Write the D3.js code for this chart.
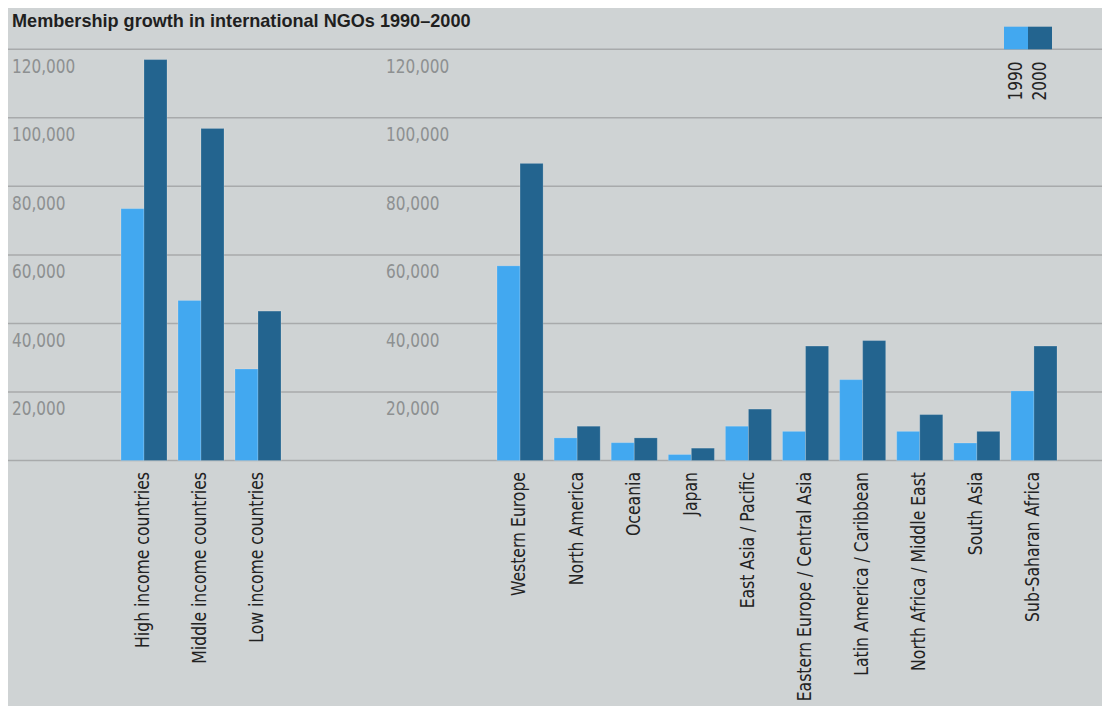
<!DOCTYPE html>
<html>
<head>
<meta charset="utf-8">
<script src="https://cdn.jsdelivr.net/npm/d3@7"></script>
<style>
  body { margin: 0; background: #fff; }
  svg { display: block; }
</style>
</head>
<body>
<svg id="chart" width="1102" height="706"></svg>
<script>
// data
const years = ['1990', '2000']
const incomeGroups = ['High income countries', 'Middle income countries', 'Low income countries']
const income1990 = [73500, 46700, 26700]
const income2000 = [117000, 96900, 43600]

const regions = ['Western Europe', 'North America', 'Oceania', 'Japan', 'East Asia / Pacific',
  'Eastern Europe / Central Asia', 'Latin America / Caribbean', 'North Africa / Middle East',
  'South Asia', 'Sub-Saharan Africa']
const region1990 = [56800, 6600, 5200, 1750, 10000, 8500, 23600, 8500, 5100, 20300]
const region2000 = [86700, 10000, 6600, 3600, 15000, 33400, 35000, 13400, 8500, 33400]

const yTicks = [0, 20000, 40000, 60000, 80000, 100000, 120000]

const colors = { '1990': '#42a8f0', '2000': '#23648f' }
const labelFont = '"DejaVu Sans Condensed", "Liberation Sans", sans-serif'

let svg = d3.select('#chart')

svg.append('rect')
  .attr('x', 8).attr('y', 8)
  .attr('width', 1094).attr('height', 698)
  .attr('fill', '#cfd3d4')

let y = d3.scaleLinear().domain([0, 120000]).range([460.5, 49.3])

// grid lines
svg.append('g').selectAll('line')
  .data(yTicks)
  .join('line')
  .attr('x1', 8).attr('x2', 1102)
  .attr('y1', d => y(d)).attr('y2', d => y(d))
  .attr('stroke', '#a8aaab')
  .attr('stroke-width', 1.5)

// tick labels, two columns
let fmt = d3.format(',')
;[12, 386].forEach(x0 => {
  svg.append('g').selectAll('text')
    .data(yTicks.filter(d => d > 0))
    .join('text')
    .attr('transform', d => 'translate(' + x0 + ',' + (y(d) + 23.4) + ') scale(0.85,1)')
    .attr('fill', '#8d9091')
    .style('font-family', labelFont)
    .style('font-size', '20px')
    .text(d => fmt(d))
})

svg.append('text')
  .attr('x', 12).attr('y', 27)
  .attr('fill', '#1f1f1f')
  .style('font-family', '"Liberation Sans", Arial, sans-serif')
  .style('font-weight', 'bold')
  .style('font-size', '18.1px')
  .text('Membership growth in international NGOs 1990\u20132000')

function drawGroup(cats, v1990, v2000, x0, x1) {
  let x = d3.scaleBand().domain(cats).range([x0, x1])
    .paddingInner(11 / 57).paddingOuter(0.5 * 11 / 57)
  let xi = d3.scaleBand().domain(years).range([0, x.bandwidth()])

  let rows = cats.map((c, i) => ({ cat: c, vals: [
    { year: '1990', v: v1990[i] }, { year: '2000', v: v2000[i] }] }))

  let g = svg.append('g')
  let grp = g.selectAll('g.cat')
    .data(rows)
    .join('g')
    .attr('class', 'cat')
    .attr('transform', d => 'translate(' + x(d.cat) + ',0)')

  grp.selectAll('rect')
    .data(d => d.vals)
    .join('rect')
    .attr('x', d => xi(d.year))
    .attr('width', xi.bandwidth())
    .attr('y', d => y(d.v))
    .attr('height', d => y(0) - y(d.v))
    .attr('fill', d => colors[d.year])
    .attr('stroke', 'rgba(255,255,255,0.18)')
    .attr('stroke-width', 1)

  grp.append('text')
    .attr('transform', 'translate(' + x.bandwidth() / 2 + ',472) rotate(-90) scale(0.87,1)')
    .attr('text-anchor', 'end')
    .attr('dy', '0.27em')
    .attr('fill', '#222')
    .style('font-family', labelFont)
    .style('font-size', '20px')
    .text(d => d.cat)
}

drawGroup(incomeGroups, income1990, income2000, 115.5, 115.5 + 57 * 3)
drawGroup(regions, region1990, region2000, 491.5, 491.5 + 57.1 * 10)

// legend
let lx = d3.scaleBand().domain(years).range([1004, 1052])
let leg = svg.append('g')
leg.selectAll('rect')
  .data(years)
  .join('rect')
  .attr('x', d => lx(d))
  .attr('y', 26.7)
  .attr('width', lx.bandwidth())
  .attr('height', y(120000) - 26.7)
  .attr('fill', d => colors[d])
leg.selectAll('text')
  .data(years)
  .join('text')
  .attr('transform', d => 'translate(' + (lx(d) + lx.bandwidth() / 2) + ',61.5) rotate(-90) scale(0.85,1)')
  .attr('text-anchor', 'end')
  .attr('dy', '0.3em')
  .attr('fill', '#222')
  .style('font-family', labelFont)
  .style('font-size', '20px')
  .text(d => d)
</script>
</body>
</html>
